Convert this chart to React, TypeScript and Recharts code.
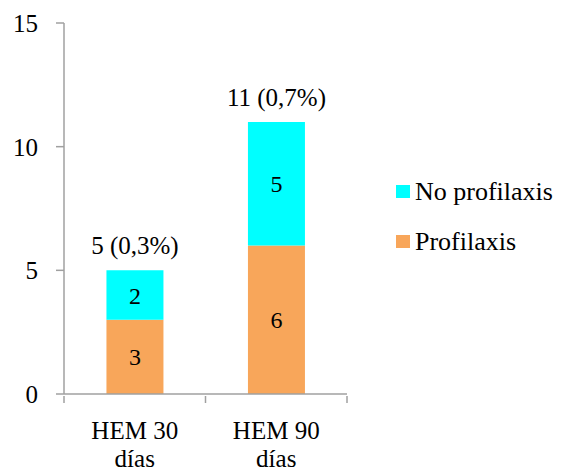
import { BarChart, Bar, XAxis, YAxis, Legend, LabelList } from "recharts";

const categories = ["HEM 30 días", "HEM 90 días"];
const profilaxis = [3, 6];
const noProfilaxis = [2, 5];
const percentages = ["0,3%", "0,7%"];
const yTicks = [0, 5, 10, 15];

const FONT = "'Liberation Serif', 'Times New Roman', serif";
const AXIS = "#A0A0A0";
const CYAN = "#00FFFF";
const ORANGE = "#F8A65A";

const WIDTH = 574;
const HEIGHT = 473;
const MARGIN = { top: 23, right: 227, left: 0, bottom: 0 };
const Y_WIDTH = 64;
const HALF_BAND = (WIDTH - MARGIN.right - Y_WIDTH) / categories.length / 2;

const data = categories.map((name, i) => ({
  name,
  prof: profilaxis[i],
  noProf: noProfilaxis[i],
}));

// two-line category label plus the tick marks at band edges
const CategoryTick = (props: any) => {
  const { x, y, payload, index } = props;
  const words = String(payload.value).split(" ");
  const first = words.slice(0, 2).join(" ");
  const second = words.slice(2).join(" ");
  const last = index === categories.length - 1;
  return (
    <g>
      <line x1={x - HALF_BAND} y1={y} x2={x - HALF_BAND} y2={y + 7} stroke={AXIS} strokeWidth={1.5} />
      {last && (
        <line x1={x + HALF_BAND} y1={y} x2={x + HALF_BAND} y2={y + 7} stroke={AXIS} strokeWidth={1.5} />
      )}
      <text x={x} y={y + 43} textAnchor="middle" fontFamily={FONT} fontSize={25} fill="#000">
        {first}
      </text>
      <text x={x} y={y + 71} textAnchor="middle" fontFamily={FONT} fontSize={25} fill="#000">
        {second}
      </text>
    </g>
  );
};

const TotalLabel = (props: any) => {
  const { x, y, width, index } = props;
  const total = profilaxis[index] + noProfilaxis[index];
  return (
    <text x={x + width / 2} y={y - 16} textAnchor="middle" fontFamily={FONT} fontSize={25} fill="#000">
      {`${total} (${percentages[index]})`}
    </text>
  );
};

const legendItems = [
  { label: "No profilaxis", color: CYAN },
  { label: "Profilaxis", color: ORANGE },
];

const LegendContent = () => (
  <div style={{ fontFamily: FONT, fontSize: 26, color: "#000" }}>
    {legendItems.map((item) => (
      <div key={item.label} style={{ display: "flex", alignItems: "center", height: 50 }}>
        <span style={{ width: 14, height: 13, background: item.color, marginRight: 5, marginTop: -2 }} />
        <span>{item.label}</span>
      </div>
    ))}
  </div>
);

export default function App() {
  return (
    <div style={{ position: "absolute", left: 0, top: 0, background: "#fff" }}>
      <BarChart width={WIDTH} height={HEIGHT} data={data} margin={MARGIN} barCategoryGap="30%">
        <XAxis
          dataKey="name"
          height={HEIGHT - 394}
          axisLine={{ stroke: AXIS, strokeWidth: 1.5 }}
          tickLine={false}
          tickSize={0}
          tick={<CategoryTick />}
          interval={0}
        />
        <YAxis
          width={Y_WIDTH}
          domain={[0, 15]}
          ticks={yTicks}
          axisLine={{ stroke: AXIS, strokeWidth: 1.5 }}
          tickLine={{ stroke: AXIS, strokeWidth: 1.5 }}
          tickSize={8}
          tickMargin={18}
          tick={{ fontFamily: FONT, fontSize: 25, fill: "#000" }}
        />
        <Legend
          layout="horizontal"
          verticalAlign="middle"
          align="center"
          content={<LegendContent />}
          wrapperStyle={{ position: "absolute", left: 396, top: 167, width: 178 }}
        />
        <Bar dataKey="prof" stackId="a" fill={ORANGE} isAnimationActive={false}>
          <LabelList dataKey="prof" position="center" fontFamily={FONT} fontSize={24} fill="#000" />
        </Bar>
        <Bar dataKey="noProf" stackId="a" fill={CYAN} isAnimationActive={false}>
          <LabelList dataKey="noProf" position="center" fontFamily={FONT} fontSize={24} fill="#000" />
          <LabelList dataKey="noProf" content={<TotalLabel />} />
        </Bar>
      </BarChart>
    </div>
  );
}
